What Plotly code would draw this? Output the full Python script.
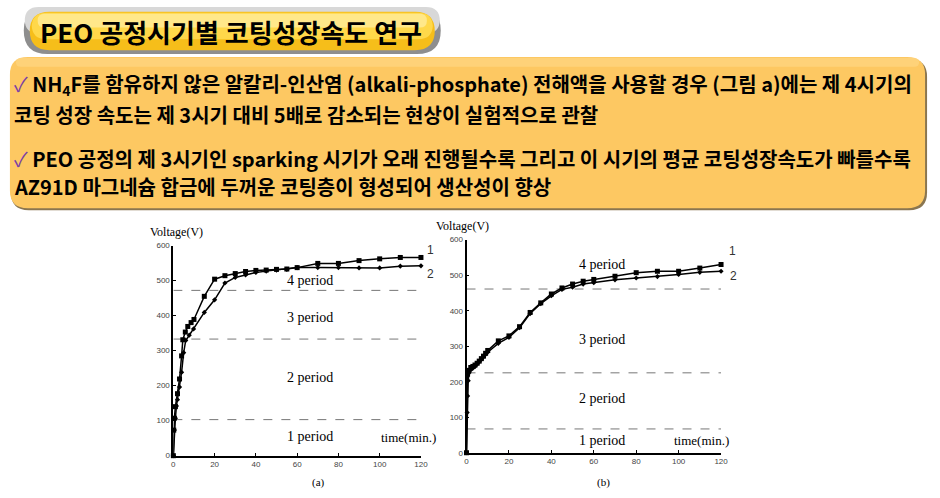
import plotly.graph_objects as go

W, H = 940, 498

# ---------------- data ----------------
# Figure (a)
a_t1 = [0, 0.2, 0.5, 1, 2, 3, 4, 4.6, 5.8, 7, 8.6, 10, 15, 20, 25, 30, 35, 40, 45, 50, 55, 60, 70, 80, 90, 100, 110, 120]
a_v1 = [0, 73, 107, 140, 177, 219, 285, 331, 353, 369, 380, 389, 455, 504, 514, 520, 526, 529, 530, 532, 533, 537, 549, 549, 557, 562, 566, 566]
a_t2 = [0, 0.5, 1, 1.5, 2, 3, 4, 5, 6, 7.7, 9.8, 15, 20, 25, 30, 35, 40, 45, 50, 55, 60, 70, 80, 90, 100, 110, 120]
a_v2 = [0, 73, 107, 142, 160, 196, 238, 294, 329, 344, 362, 409, 445, 493, 509, 516, 523, 527, 530, 532, 537, 537, 537, 536, 536, 541, 542]
a_bounds = [103, 333, 472]

# Figure (b)
b_t1 = [0, 0.5, 1, 2, 3, 4, 5, 6, 7, 8, 9, 10, 15, 20, 25, 30, 35, 40, 45, 50, 55, 60, 70, 80, 90, 100, 110, 120]
b_v1 = [0, 221, 232, 240, 243, 247, 252, 258, 265, 272, 280, 288, 315, 329, 355, 395, 422, 447, 464, 475, 483, 488, 497, 507, 511, 511, 520, 530]
b_t2 = [0, 0.3, 0.5, 0.8, 1.2, 2, 3, 4, 5, 6, 7, 8, 9, 10, 15, 20, 25, 30, 35, 40, 45, 50, 55, 60, 70, 80, 90, 100, 110, 120]
b_v2 = [0, 113, 160, 203, 225, 233, 238, 243, 250, 256, 263, 270, 277, 283, 308, 325, 352, 392, 420, 442, 460, 466, 475, 479, 487, 492, 496, 502, 508, 511]
b_bounds = [67, 225, 461]

x_ticks = [0, 20, 40, 60, 80, 100, 120]
y_ticks = [0, 100, 200, 300, 400, 500, 600]
period_labels = ["1 period", "2 period", "3 period", "4 period"]
curve_labels = ["1", "2"]

title_text = "PEO 공정시기별 코팅성장속도 연구"
body_lines = [
    "NH<sub>4</sub>F를 함유하지 않은 알칼리-인산염 (alkali-phosphate) 전해액을 사용할 경우 (그림 a)에는 제 4시기의",
    "코팅 성장 속도는 제 3시기 대비 5배로 감소되는 현상이 실험적으로 관찰",
    "PEO 공정의 제 3시기인 sparking 시기가 오래 진행될수록 그리고 이 시기의 평균 코팅성장속도가 빠를수록",
    "AZ91D 마그네슘 합금에 두꺼운 코팅층이 형성되어 생산성이 향상",
]
body_checks = [True, False, True, False]


# ---------------- helpers ----------------
def px(x):
    return x / W


def py(y):
    return 1 - y / H


def rrect(x0, y0, x1, y1, r):
    pts = [
        f"M{px(x0 + r)},{py(y0)}", f"L{px(x1 - r)},{py(y0)}",
        f"Q{px(x1)},{py(y0)} {px(x1)},{py(y0 + r)}", f"L{px(x1)},{py(y1 - r)}",
        f"Q{px(x1)},{py(y1)} {px(x1 - r)},{py(y1)}", f"L{px(x0 + r)},{py(y1)}",
        f"Q{px(x0)},{py(y1)} {px(x0)},{py(y1 - r)}", f"L{px(x0)},{py(y0 + r)}",
        f"Q{px(x0)},{py(y0)} {px(x0 + r)},{py(y0)}", "Z",
    ]
    return " ".join(pts)


def shape(path, fill, opacity=1.0):
    return dict(type="path", path=path, xref="paper", yref="paper",
                fillcolor=fill, line=dict(width=0), opacity=opacity, layer="below")


fig = go.Figure()

line_style = dict(color="black", width=1.5)
dash_style = dict(color="#777777", width=1, dash="dash")

for (t1, v1, t2, v2, bounds, xa, ya) in [
    (a_t1, a_v1, a_t2, a_v2, a_bounds, "x", "y"),
    (b_t1, b_v1, b_t2, b_v2, b_bounds, "x2", "y2"),
]:
    for bnd in bounds:
        fig.add_trace(go.Scatter(x=[x_ticks[0], x_ticks[-1]], y=[bnd, bnd], mode="lines",
                                 line=dash_style, xaxis=xa, yaxis=ya, hoverinfo="skip"))
    fig.add_trace(go.Scatter(x=t2, y=v2, mode="lines+markers", line=line_style,
                             marker=dict(symbol="diamond", size=4, color="black"),
                             xaxis=xa, yaxis=ya, cliponaxis=False))
    fig.add_trace(go.Scatter(x=t1, y=v1, mode="lines+markers", line=line_style,
                             marker=dict(symbol="square", size=5, color="black"),
                             xaxis=xa, yaxis=ya, cliponaxis=False))

axis_common = dict(showline=True, linecolor="black", linewidth=1.8, ticks="inside",
                   ticklen=3, tickwidth=1, tickcolor="black", showgrid=False, zeroline=False,
                   tickfont=dict(family="Liberation Sans, Arial", size=8, color="#444444"))

shapes = [
    # title pill
    shape(rrect(22, 3, 443, 51, 24), "#8E8E8E"),
    shape(rrect(23, 3, 442, 30, 14), "#D8D8D8"),
    shape(rrect(28, 8, 437, 47, 20), "#F6BE1A"),
    shape(rrect(30, 9, 435, 36, 15), "#FFD84A"),
    shape(rrect(36, 10, 429, 24, 7), "#FFEC9A", 0.8),
    # orange text box
    shape(rrect(9, 56, 934, 210, 18), "#8A7650"),
    shape(rrect(8, 54, 932, 208, 18), "#FDC862"),
    shape(rrect(14, 55, 926, 64, 5), "#FDD583", 0.7),
]

annotations = []


def ann(x, y, text, size, family, color="black", xanchor="center", yanchor="middle"):
    annotations.append(dict(x=px(x), y=py(y), xref="paper", yref="paper", text=text,
                            showarrow=False, xanchor=xanchor, yanchor=yanchor,
                            font=dict(size=size, family=family, color=color)))


ann(231, 28, f"<b>{title_text}</b>", 26, "Noto Sans CJK KR")

body_y = [82, 113, 157, 186]
for line, yy, chk in zip(body_lines, body_y, body_checks):
    txt = f"<b>{line}</b>"
    if chk:
        txt = '<span style="color:#7A3FA6">✓</span> ' + txt
    ann(10, yy, txt, 20, "Noto Sans CJK KR", xanchor="left")

serif = "Liberation Serif, Times New Roman"
# chart a labels
ann(176, 232, "Voltage(V)", 12, serif)
ann(410, 441, "time(min.)", 13, serif)
for lbl, yy in zip(period_labels, [440, 380, 319, 282]):
    ann(311, yy, lbl, 14, serif)
ann(433, 251, curve_labels[0], 12, "Liberation Sans", "#333333")
ann(433, 275, curve_labels[1], 12, "Liberation Sans", "#333333")
ann(320, 487, "(a)", 11, serif)
# chart b labels
ann(465, 226, "Voltage(V)", 12, serif)
ann(706, 445, "time(min.)", 13, serif)
for lbl, yy in zip(period_labels, [445, 402, 342, 265]):
    ann(606, yy, lbl, 14, serif)
ann(738, 252, curve_labels[0], 12, "Liberation Sans", "#333333")
ann(739, 277, curve_labels[1], 12, "Liberation Sans", "#333333")
ann(607, 487, "(b)", 11, serif)

fig.update_layout(
    width=W, height=H, margin=dict(l=0, r=0, t=0, b=0),
    paper_bgcolor="white", plot_bgcolor="rgba(0,0,0,0)", showlegend=False,
    xaxis=dict(domain=[px(173), px(423)], range=[0, 120], anchor="y", tickvals=x_ticks, **axis_common),
    yaxis=dict(domain=[py(460), py(246)], range=[0, 600], anchor="x", tickvals=y_ticks, **axis_common),
    xaxis2=dict(domain=[px(469), px(726)], range=[0, 120], anchor="y2", tickvals=x_ticks, **axis_common),
    yaxis2=dict(domain=[py(457), py(240)], range=[0, 600], anchor="x2", tickvals=y_ticks, **axis_common),
    shapes=shapes, annotations=annotations,
)

fig.write_html("out.html")
